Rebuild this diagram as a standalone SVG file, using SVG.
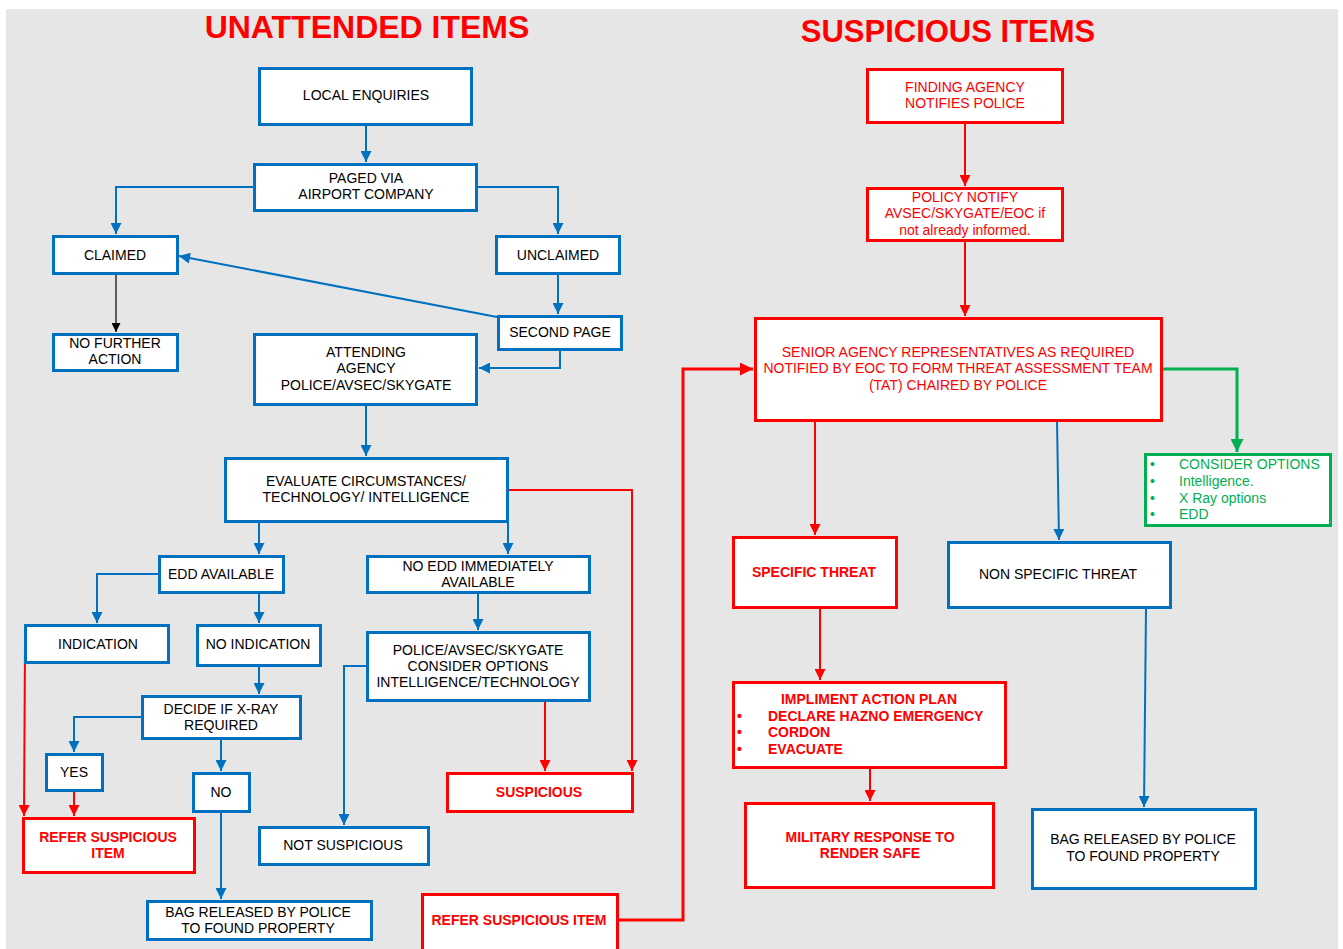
<svg xmlns="http://www.w3.org/2000/svg" width="1343" height="949" viewBox="0 0 1343 949">
<style>
text{font-family:"Liberation Sans",Arial,sans-serif;font-size:14px;fill:#000}
.c{text-anchor:middle}
.r{fill:#ff0000}
.b{font-weight:bold}
.g{fill:#00b050}
.title{font-size:31px;font-weight:bold;fill:#ff0000;text-anchor:middle}
.nb{fill:#fff;stroke:#0070c0;stroke-width:3}
.nr{fill:#fff;stroke:#ff0000;stroke-width:3}
.ng{fill:#fff;stroke:#00b050;stroke-width:3}
.lb{fill:none;stroke:#0070c0;stroke-width:2;marker-end:url(#ab)}
.lr{fill:none;stroke:#ff0000;stroke-width:2;marker-end:url(#ar)}
</style>
<defs>
<marker id="ab" viewBox="0 0 10 10" markerWidth="12" markerHeight="11" refX="10" refY="5" orient="auto" markerUnits="userSpaceOnUse"><path d="M0,0L10,5L0,10z" fill="#0070c0"/></marker>
<marker id="ar" viewBox="0 0 10 10" markerWidth="12" markerHeight="11" refX="10" refY="5" orient="auto" markerUnits="userSpaceOnUse"><path d="M0,0L10,5L0,10z" fill="#ff0000"/></marker>
<marker id="arb" viewBox="0 0 10 10" markerWidth="14" markerHeight="13" refX="10" refY="5" orient="auto" markerUnits="userSpaceOnUse"><path d="M0,0L10,5L0,10z" fill="#ff0000"/></marker>
<marker id="ag" viewBox="0 0 10 10" markerWidth="14" markerHeight="13" refX="10" refY="5" orient="auto" markerUnits="userSpaceOnUse"><path d="M0,0L10,5L0,10z" fill="#00b050"/></marker>
<marker id="ak" viewBox="0 0 10 10" markerWidth="10" markerHeight="9" refX="10" refY="5" orient="auto" markerUnits="userSpaceOnUse"><path d="M0,0L10,5L0,10z" fill="#000"/></marker>
</defs>
<rect x="6" y="9" width="1332" height="941" fill="#e6e6e6"/>
<text class="title" x="367" y="38" style="font-size:32px">UNATTENDED ITEMS</text>
<text class="title" x="948" y="42">SUSPICIOUS ITEMS</text>

<g id="connectors">
<path class="lb" d="M366,125V162"/>
<path class="lb" d="M253,187H116V234"/>
<path class="lb" d="M478,187H558V234"/>
<path class="lb" d="M558,274V314"/>
<path class="lb" d="M497,317L179,256"/>
<path class="lb" d="M560,350V368H479"/>
<path d="M116,274V332" fill="none" stroke="#000" stroke-width="1.2" marker-end="url(#ak)"/>
<path class="lb" d="M366,405V456"/>
<path class="lb" d="M259,522V554"/>
<path class="lb" d="M508,522V554"/>
<path class="lr" d="M508,490H632V771"/>
<path class="lb" d="M158,574H97V623"/>
<path class="lb" d="M259,593V623"/>
<path class="lb" d="M259,666V694"/>
<path class="lb" d="M141,717H74V752"/>
<path class="lb" d="M221,739V771"/>
<path class="lr" d="M74,791V816"/>
<path class="lr" d="M25,645L24,816"/>
<path class="lb" d="M221,812V899"/>
<path class="lb" d="M366,666H344V825"/>
<path class="lb" d="M478,593V630"/>
<path class="lr" d="M545,701V771"/>
<path d="M618,920H683V369H753" fill="none" stroke="#ff0000" stroke-width="3" marker-end="url(#arb)"/>
<path class="lr" d="M965,123V186"/>
<path class="lr" d="M965,241V316"/>
<path d="M1162,369H1237V452" fill="none" stroke="#00b050" stroke-width="3" marker-end="url(#ag)"/>
<path class="lr" d="M815,421V535"/>
<path class="lb" d="M1057,421L1059,540"/>
<path class="lr" d="M820,608V680"/>
<path class="lr" d="M870,768V801"/>
<path class="lb" d="M1146,608L1144,807"/>
</g>

<g id="local-enquiries"><rect class="nb" x="259.5" y="68.5" width="212" height="56"/><text class="c" x="366" y="100">LOCAL ENQUIRIES</text></g>
<g id="paged"><rect class="nb" x="254.5" y="164.5" width="222" height="46"/><text class="c" x="366" y="183">PAGED VIA</text><text class="c" x="366" y="199">AIRPORT COMPANY</text></g>
<g id="claimed"><rect class="nb" x="53.5" y="236.5" width="124" height="37"/><text class="c" x="115" y="260">CLAIMED</text></g>
<g id="unclaimed"><rect class="nb" x="496.5" y="236.5" width="123" height="37"/><text class="c" x="558" y="260">UNCLAIMED</text></g>
<g id="second-page"><rect class="nb" x="498.5" y="316.5" width="123" height="33"/><text class="c" x="560" y="337">SECOND PAGE</text></g>
<g id="no-further"><rect class="nb" x="53.5" y="334.5" width="124" height="36"/><text class="c" x="115" y="348">NO FURTHER</text><text class="c" x="115" y="364">ACTION</text></g>
<g id="attending"><rect class="nb" x="254.5" y="334.5" width="222" height="70"/><text class="c" x="366" y="357">ATTENDING</text><text class="c" x="366" y="373">AGENCY</text><text class="c" x="366" y="390">POLICE/AVSEC/SKYGATE</text></g>
<g id="evaluate"><rect class="nb" x="225.5" y="458.5" width="282" height="63"/><text class="c" x="366" y="486">EVALUATE CIRCUMSTANCES/</text><text class="c" x="366" y="502">TECHNOLOGY/ INTELLIGENCE</text></g>
<g id="edd-available"><rect class="nb" x="159.5" y="556.5" width="124" height="36"/><text class="c" x="221" y="579">EDD AVAILABLE</text></g>
<g id="no-edd"><rect class="nb" x="367.5" y="556.5" width="222" height="36"/><text class="c" x="478" y="571">NO EDD IMMEDIATELY</text><text class="c" x="478" y="587">AVAILABLE</text></g>
<g id="indication"><rect class="nb" x="25.5" y="625.5" width="143" height="37"/><text class="c" x="98" y="649">INDICATION</text></g>
<g id="no-indication"><rect class="nb" x="197.5" y="625.5" width="123" height="40"/><text class="c" x="258" y="649">NO INDICATION</text></g>
<g id="consider-options"><rect class="nb" x="367.5" y="632.5" width="222" height="68"/><text class="c" x="478" y="655">POLICE/AVSEC/SKYGATE</text><text class="c" x="478" y="671">CONSIDER OPTIONS</text><text class="c" x="478" y="687">INTELLIGENCE/TECHNOLOGY</text></g>
<g id="decide-xray"><rect class="nb" x="142.5" y="696.5" width="158" height="42"/><text class="c" x="221" y="714">DECIDE IF X-RAY</text><text class="c" x="221" y="730">REQUIRED</text></g>
<g id="yes"><rect class="nb" x="46.5" y="754.5" width="56" height="36"/><text class="c" x="74" y="777">YES</text></g>
<g id="no"><rect class="nb" x="193.5" y="773.5" width="56" height="38"/><text class="c" x="221" y="797">NO</text></g>
<g id="suspicious"><rect class="nr" x="447.5" y="773.5" width="185" height="38"/><text class="c r b" x="539" y="797">SUSPICIOUS</text></g>
<g id="refer-left"><rect class="nr" x="23.5" y="818.5" width="171" height="54"/><text class="c r b" x="108" y="842">REFER SUSPICIOUS</text><text class="c r b" x="108" y="858">ITEM</text></g>
<g id="not-suspicious"><rect class="nb" x="259.5" y="827.5" width="169" height="37"/><text class="c" x="343" y="850">NOT SUSPICIOUS</text></g>
<g id="bag-left"><rect class="nb" x="147.5" y="901.5" width="224" height="38"/><text class="c" x="258" y="917">BAG RELEASED BY POLICE</text><text class="c" x="258" y="933">TO FOUND PROPERTY</text></g>
<g id="refer-bottom"><rect class="nr" x="422.5" y="894.5" width="195" height="58"/><text class="c r b" x="519" y="925">REFER SUSPICIOUS ITEM</text></g>

<g id="finding-agency"><rect class="nr" x="867.5" y="69.5" width="195" height="53"/><text class="c r" x="965" y="92">FINDING AGENCY</text><text class="c r" x="965" y="108">NOTIFIES POLICE</text></g>
<g id="policy-notify"><rect class="nr" x="867.5" y="188.5" width="195" height="52"/><text class="c r" x="965" y="202">POLICY NOTIFY</text><text class="c r" x="965" y="218">AVSEC/SKYGATE/EOC if</text><text class="c r" x="965" y="235">not already informed.</text></g>
<g id="senior"><rect class="nr" x="755.5" y="318.5" width="406" height="102"/><text class="c r" x="958" y="357">SENIOR AGENCY REPRESENTATIVES AS REQUIRED</text><text class="c r" x="958" y="373">NOTIFIED BY EOC TO FORM THREAT ASSESSMENT TEAM</text><text class="c r" x="958" y="390">(TAT) CHAIRED BY POLICE</text></g>
<g id="consider-green"><rect class="ng" x="1145.5" y="454.5" width="185" height="71"/>
<text class="g" x="1150" y="469">•</text><text class="g" x="1179" y="469">CONSIDER OPTIONS</text>
<text class="g" x="1150" y="486">•</text><text class="g" x="1179" y="486">Intelligence.</text>
<text class="g" x="1150" y="503">•</text><text class="g" x="1179" y="503">X Ray options</text>
<text class="g" x="1150" y="519">•</text><text class="g" x="1179" y="519">EDD</text></g>
<g id="specific-threat"><rect class="nr" x="733.5" y="537.5" width="163" height="70"/><text class="c r b" x="814" y="577">SPECIFIC THREAT</text></g>
<g id="non-specific"><rect class="nb" x="948.5" y="542.5" width="222" height="65"/><text class="c" x="1058" y="579">NON SPECIFIC THREAT</text></g>
<g id="action-plan"><rect class="nr" x="733.5" y="682.5" width="272" height="85"/>
<text class="c r b" x="869" y="704">IMPLIMENT ACTION PLAN</text>
<text class="r b" x="737" y="721">•</text><text class="r b" x="768" y="721">DECLARE HAZNO EMERGENCY</text>
<text class="r b" x="737" y="737">•</text><text class="r b" x="768" y="737">CORDON</text>
<text class="r b" x="737" y="754">•</text><text class="r b" x="768" y="754">EVACUATE</text></g>
<g id="military"><rect class="nr" x="745.5" y="803.5" width="248" height="84"/><text class="c r b" x="870" y="842">MILITARY RESPONSE TO</text><text class="c r b" x="870" y="858">RENDER SAFE</text></g>
<g id="bag-right"><rect class="nb" x="1032.5" y="809.5" width="223" height="79"/><text class="c" x="1143" y="844">BAG RELEASED BY POLICE</text><text class="c" x="1143" y="861">TO FOUND PROPERTY</text></g>
</svg>
